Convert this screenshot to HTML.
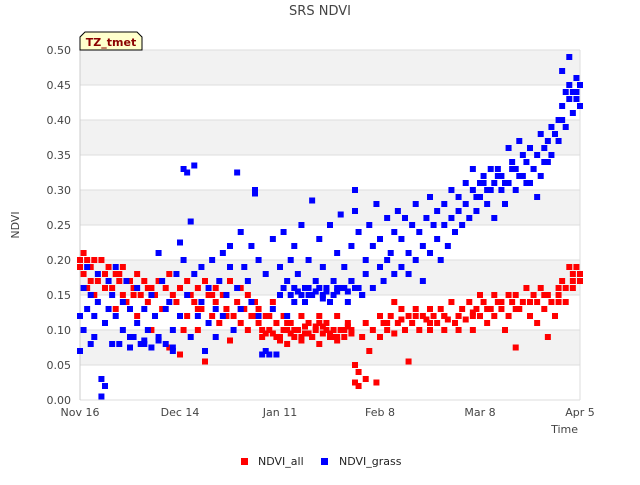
<!DOCTYPE html>
<html><head><meta charset="utf-8">
<style>
body{margin:0;background:#fff;font-family:"Liberation Sans",sans-serif;}
svg text{font-family:"DejaVu Sans","Liberation Sans",sans-serif;}
</style></head>
<body>
<svg id="chart" width="640" height="480" viewBox="0 0 640 480" xmlns="http://www.w3.org/2000/svg">
<rect width="640" height="480" fill="#fff"/>
<text x="320" y="15" text-anchor="middle" font-size="13" fill="#444">SRS NDVI</text>
<g id="bands"></g>
<g id="grid"></g>
<g id="yticks"></g>
<g id="xticks"></g>
<g id="red"></g>
<g id="blue"></g>
<text transform="translate(19,225) rotate(-90)" text-anchor="middle" font-size="11" fill="#444">NDVI</text>
<text x="578" y="433" text-anchor="end" font-size="11" fill="#444">Time</text>
<g>
<path d="M80,50 L80,37 L85,32 L137,32 L142,37 L142,50 Z" fill="#ffffcc" stroke="#000" stroke-width="1"/>
<text x="111" y="46" text-anchor="middle" font-size="11" font-weight="bold" fill="#8b0000">TZ_tmet</text>
</g>
<g>
<rect x="241" y="458" width="7" height="7" fill="#f00"/>
<text x="258" y="465" font-size="11" fill="#222">NDVI_all</text>
<rect x="321" y="458" width="7" height="7" fill="#00f"/>
<text x="339" y="465" font-size="11" fill="#222">NDVI_grass</text>
</g>
</svg>
<script>
const yTicks=[0,0.05,0.10,0.15,0.20,0.25,0.30,0.35,0.40,0.45,0.50];
const xTickLabels=["Nov 16","Dec 14","Jan 11","Feb 8","Mar 8","Apr 5"];
const xTickDays=[0,28,56,84,112,140];
const allDays=[0,0,1,1,2,2,3,4,4,5,6,7,8,9,10,10,11,12,12,13,14,15,16,16,17,18,19,20,20,21,22,23,24,25,25,26,27,28,28,29,30,30,31,32,33,33,34,35,35,36,37,38,38,39,40,41,42,42,43,44,45,45,46,47,47,48,49,50,50,51,52,53,54,54,55,56,57,58,58,59,60,61,62,62,63,64,65,66,67,67,68,69,70,71,72,72,73,74,75,76,77,77,78,78,79,80,80,81,82,83,84,84,85,86,87,88,88,89,90,91,92,92,93,94,95,96,97,98,98,99,100,101,102,102,103,104,105,106,106,107,108,109,110,110,111,112,112,113,114,115,116,116,117,118,119,120,120,121,122,122,123,124,125,126,127,128,128,129,130,131,131,132,133,134,134,135,136,136,137,138,138,139,140,140,
51,53,55,57,59,61,63,65,67,69,71,73,75,52,56,60,64,68,72,76,58,62,66,70,74,3,7,11,15,19,33,37,41,45,49,86,90,94,98,102,106,110,114,118,122,126,130,134,138];
const allValues=[.20,.19,.21,.18,.20,.16,.19,.20,.15,.17,.20,.18,.19,.16,.18,.13,.17,.19,.15,.14,.17,.16,.18,.12,.15,.17,.14,.16,.10,.15,.17,.13,.16,.075,.18,.15,.14,.16,.065,.10,.17,.12,.15,.14,.16,.10,.13,.17,.055,.15,.12,.16,.14,.11,.15,.13,.17,.085,.12,.14,.16,.11,.13,.15,.10,.12,.14,.11,.13,.09,.12,.10,.14,.095,.11,.09,.12,.08,.10,.11,.09,.10,.085,.12,.095,.11,.09,.10,.08,.12,.095,.11,.09,.10,.085,.12,.10,.09,.11,.095,.025,.05,.02,.04,.09,.03,.11,.07,.10,.025,.12,.09,.11,.10,.12,.095,.14,.11,.13,.10,.12,.055,.11,.13,.10,.12,.115,.10,.13,.12,.11,.13,.10,.12,.115,.14,.11,.12,.10,.13,.115,.14,.12,.10,.13,.15,.12,.14,.11,.13,.15,.12,.14,.13,.10,.15,.12,.14,.075,.15,.13,.14,.16,.12,.15,.14,.11,.16,.13,.09,.15,.14,.12,.16,.15,.17,.16,.14,.19,.18,.17,.19,.18,.17,
.10,.12,.09,.10,.095,.10,.105,.09,.11,.10,.09,.10,.105,.095,.085,.10,.095,.105,.09,.10,.11,.09,.105,.095,.10,.17,.16,.18,.15,.16,.13,.15,.12,.13,.12,.11,.115,.12,.11,.12,.12,.125,.13,.14,.13,.14,.15,.14,.16];
const grassDays=[0,0,1,1,2,2,3,3,4,4,5,5,6,6,7,7,8,8,9,9,10,10,11,12,12,13,14,14,15,16,16,17,18,18,19,20,20,21,22,22,23,24,24,25,26,26,27,28,28,29,29,30,30,31,31,32,32,33,34,34,35,36,36,37,38,38,39,40,40,41,42,42,43,44,44,45,45,46,47,48,48,49,49,50,50,51,52,52,53,54,54,55,56,56,57,58,58,59,60,60,61,62,62,63,64,64,65,66,66,67,68,68,69,70,70,71,72,72,73,74,74,75,76,76,77,77,78,78,79,80,80,81,82,82,83,84,84,85,86,86,87,88,88,89,90,90,91,92,92,93,94,94,95,96,96,97,98,98,99,100,100,101,102,102,103,104,104,105,106,106,107,108,108,109,110,110,111,112,112,113,114,114,115,116,116,117,118,118,119,120,120,121,122,122,123,124,124,125,126,126,127,128,128,129,130,130,131,132,132,133,134,134,135,135,136,136,137,137,138,138,139,139,140,140,
57,59,61,63,65,67,69,71,73,75,77,79,60,64,68,72,76,111,113,115,117,119,121,123,125,127,129,131,133,135,137,139,14,18,22,26];
const grassValues=[.12,.07,.16,.10,.13,.19,.08,.15,.12,.09,.18,.14,.03,.005,.02,.11,.13,.17,.08,.15,.19,.12,.08,.14,.10,.17,.075,.13,.09,.11,.16,.08,.085,.13,.10,.075,.15,.12,.09,.21,.17,.08,.13,.14,.10,.07,.18,.12,.225,.33,.20,.325,.15,.255,.09,.335,.18,.12,.14,.19,.07,.11,.16,.20,.13,.09,.17,.21,.12,.15,.19,.22,.10,.325,.16,.24,.13,.19,.17,.14,.22,.30,.295,.20,.12,.065,.07,.18,.065,.23,.13,.065,.19,.15,.24,.17,.12,.20,.16,.22,.18,.25,.15,.14,.20,.16,.285,.17,.155,.23,.15,.19,.16,.25,.14,.17,.21,.155,.265,.16,.19,.14,.22,.17,.27,.30,.16,.24,.15,.20,.18,.25,.22,.16,.28,.19,.23,.17,.26,.20,.21,.24,.18,.27,.19,.23,.26,.21,.18,.25,.20,.28,.24,.22,.17,.26,.29,.21,.25,.23,.27,.20,.28,.25,.22,.30,.26,.24,.27,.29,.25,.31,.28,.26,.30,.33,.27,.29,.31,.32,.30,.28,.33,.31,.26,.33,.30,.32,.28,.36,.31,.34,.33,.30,.37,.32,.35,.34,.31,.36,.33,.29,.35,.38,.34,.36,.37,.39,.35,.38,.40,.37,.42,.47,.44,.39,.45,.49,.41,.44,.43,.46,.45,.42,
.16,.15,.155,.16,.15,.16,.155,.15,.16,.155,.16,.15,.14,.15,.145,.16,.17,.29,.31,.30,.32,.31,.33,.32,.31,.33,.32,.34,.38,.40,.43,.44,.09,.08,.085,.075];

const X0=80,X1=580,Y0=400,Y1=50,DAYS=140,VMAX=0.5;
const xs=d=>X0+(X1-X0)*d/DAYS;
const ys=v=>Y0-(Y0-Y1)*v/VMAX;
const NS="http://www.w3.org/2000/svg";
function mk(tag,attrs,parent){const e=document.createElementNS(NS,tag);for(const k in attrs)e.setAttribute(k,attrs[k]);parent.appendChild(e);return e;}

const bands=document.getElementById('bands');
mk('rect',{x:X0,y:Y1,width:X1-X0,height:Y0-Y1,fill:'#fff'},bands);
for(let i=0;i<yTicks.length-1;i++){
  if(i%2===1){
    const r=mk('rect',{x:X0,y:ys(yTicks[i+1]),width:X1-X0,height:ys(yTicks[i])-ys(yTicks[i+1]),fill:'#f2f2f2'},bands);
    
    
  }
}
const grid=document.getElementById('grid');
const yt=document.getElementById('yticks');
yTicks.forEach(v=>{
  const l=mk('line',{x1:X0,x2:X1,y1:ys(v),y2:ys(v),stroke:'#ddd','stroke-width':1},grid);
  
  
  const t=mk('text',{x:X0-9,y:ys(v)+4,'text-anchor':'end','font-size':11,fill:'#444'},yt);
  t.textContent=v.toFixed(2);
  
  
});
mk('line',{x1:X0,x2:X0,y1:Y1,y2:Y0,stroke:'#ccc'},grid);
mk('line',{x1:X1,x2:X1,y1:Y1,y2:Y0,stroke:'#ddd'},grid);
const xt=document.getElementById('xticks');
xTickLabels.forEach((lab,i)=>{
  const t=mk('text',{x:xs(xTickDays[i]),y:416,'text-anchor':'middle','font-size':11,fill:'#444'},xt);
  t.textContent=lab;
  
  
});
function plot(days,vals,color,gid,name){
  const g=document.getElementById(gid);
  for(let i=0;i<days.length;i++){
    const r=mk('rect',{x:xs(days[i])-3,y:ys(vals[i])-3,width:6,height:6,fill:color},g);
    
    
  }
}
plot(allDays,allValues,'#f00','red','ndvi-all-point');
plot(grassDays,grassValues,'#00f','blue','ndvi-grass-point');
</script>
</body></html>
